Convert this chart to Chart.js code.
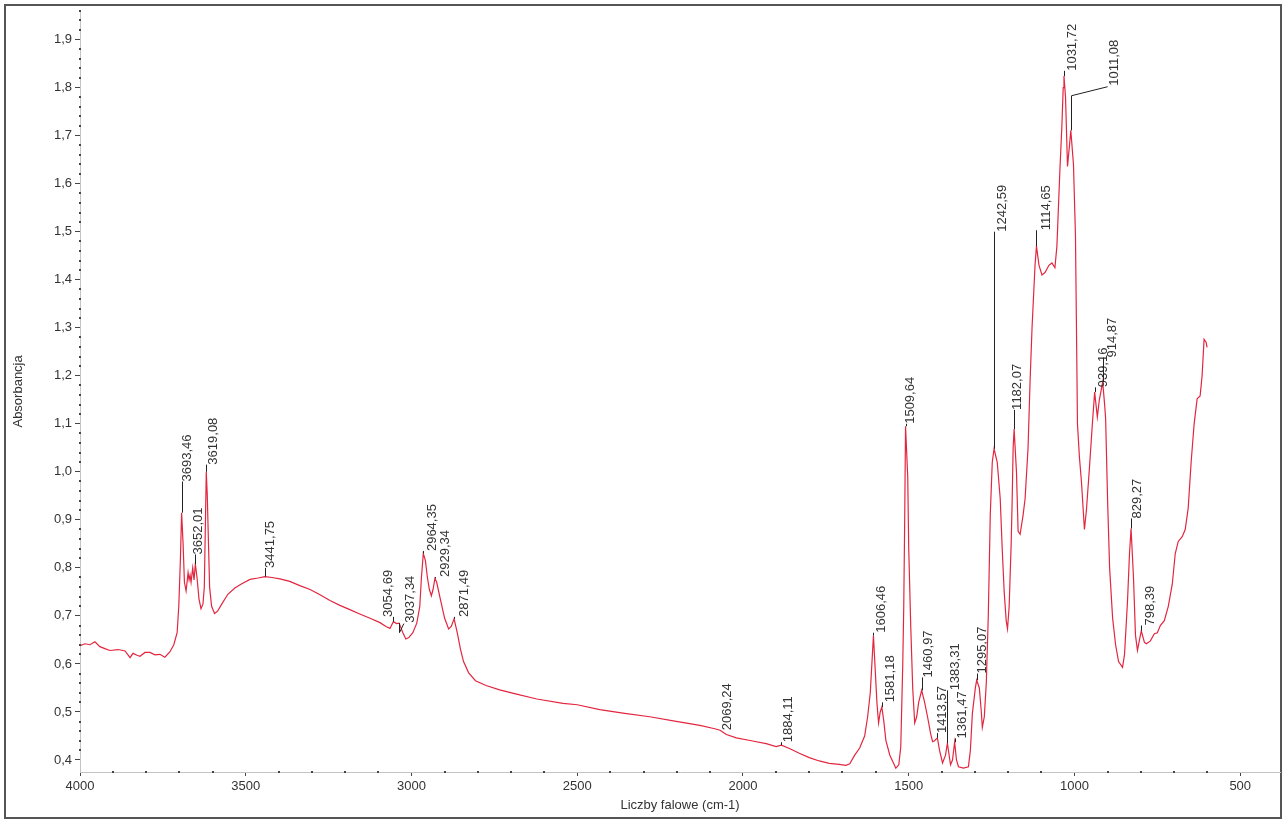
<!DOCTYPE html>
<html>
<head>
<meta charset="utf-8">
<script src="https://cdn.jsdelivr.net/npm/chart.js@4/dist/chart.umd.min.js"></script>
<style>
  html, body { margin: 0; padding: 0; background: #fff; }
  #wrap { width: 1287px; height: 820px; position: relative; }
</style>
</head>
<body>
<div id="wrap"><canvas id="ir-chart"></canvas></div>
<script>
"use strict";

// spectrum (cm-1 / absorbance)
const wavenumbers = [
  4000, 3985, 3970, 3955, 3940, 3925, 3910, 3885, 3864, 3849,
  3840, 3828, 3819, 3804, 3789, 3774, 3759, 3744, 3729, 3717,
  3707, 3702, 3697, 3693.46, 3689, 3685, 3680, 3674, 3671, 3668,
  3665, 3660, 3656, 3652.01, 3647, 3641, 3635, 3629, 3625, 3622,
  3619.08, 3616, 3612, 3609, 3603, 3594, 3585, 3572, 3554, 3533,
  3512, 3487, 3463, 3441.75, 3421, 3397, 3367, 3337, 3306, 3276,
  3246, 3216, 3186, 3156, 3125, 3095, 3077, 3065, 3054.69, 3045,
  3037.34, 3026, 3017, 3008, 2996, 2984, 2975, 2970, 2964.35, 2958,
  2952, 2946, 2940, 2935, 2929.34, 2924, 2913, 2900, 2888, 2880,
  2871.49, 2862, 2852, 2843, 2828, 2807, 2775, 2734, 2683, 2622,
  2543, 2500, 2432, 2357, 2281, 2206, 2130, 2085, 2069.24, 2050,
  2020, 1975, 1930, 1900, 1884.11, 1860, 1830, 1800, 1770, 1740,
  1710, 1690, 1678, 1663, 1648, 1633, 1624, 1616, 1606.46, 1602,
  1596, 1591, 1586, 1581.18, 1575, 1569, 1557, 1545, 1539, 1530,
  1524, 1518, 1515, 1512, 1509.64, 1503, 1500, 1494, 1488, 1482,
  1476, 1470, 1460.97, 1452, 1443, 1434, 1428, 1422, 1413.57, 1407,
  1398, 1389, 1383.31, 1374, 1368, 1361.47, 1356, 1350, 1335, 1320,
  1314, 1308, 1299, 1295.07, 1287, 1281, 1278, 1272, 1266, 1260,
  1254, 1248, 1242.59, 1233, 1224, 1218, 1212, 1206, 1202, 1197,
  1191, 1188, 1185, 1182.07, 1175, 1170, 1164, 1155, 1149, 1140,
  1134, 1128, 1119, 1114.65, 1107, 1098, 1089, 1077, 1068, 1059,
  1053, 1044, 1038, 1034, 1031.72, 1027, 1021, 1015, 1011.08, 1003,
  997, 994, 991, 985, 979, 970, 964, 955, 946, 939.16,
  931, 925, 914.87, 909, 906, 900, 894, 885, 876, 867,
  855, 849, 840, 834, 829.27, 822, 816, 810, 804, 798.39,
  789, 783, 771, 759, 750, 741, 729, 717, 705, 696,
  687, 675, 666, 657, 648, 639, 630, 621, 615, 609,
  603, 600
];

const absorbance = [
  0.638, 0.642, 0.640, 0.646, 0.636, 0.632, 0.628, 0.630, 0.627, 0.613,
  0.622, 0.618, 0.616, 0.624, 0.624, 0.619, 0.620, 0.614, 0.625, 0.640,
  0.665, 0.720, 0.820, 0.915, 0.850, 0.770, 0.752, 0.790, 0.775, 0.785,
  0.770, 0.800, 0.775, 0.808, 0.780, 0.735, 0.715, 0.725, 0.760, 0.880,
  1.000, 0.950, 0.840, 0.760, 0.720, 0.705, 0.710, 0.725, 0.745, 0.758,
  0.767, 0.776, 0.779, 0.782, 0.780, 0.777, 0.772, 0.763, 0.755, 0.744,
  0.732, 0.722, 0.713, 0.704, 0.695, 0.686, 0.678, 0.674, 0.688, 0.684,
  0.685, 0.665, 0.652, 0.655, 0.665, 0.685, 0.720, 0.780, 0.830, 0.815,
  0.780, 0.755, 0.742, 0.755, 0.778, 0.770, 0.735, 0.695, 0.673, 0.678,
  0.694, 0.665, 0.630, 0.605, 0.582, 0.565, 0.555, 0.546, 0.537, 0.527,
  0.518, 0.515, 0.505, 0.497, 0.490, 0.481, 0.472, 0.465, 0.462, 0.453,
  0.446, 0.440, 0.434, 0.428, 0.431, 0.424, 0.414, 0.405, 0.398, 0.393,
  0.391, 0.389, 0.392, 0.410, 0.425, 0.450, 0.490, 0.540, 0.659, 0.600,
  0.520, 0.477, 0.500, 0.510, 0.480, 0.441, 0.410, 0.392, 0.383, 0.390,
  0.427, 0.600, 0.720, 0.910, 1.095, 0.990, 0.840, 0.680, 0.550, 0.477,
  0.490, 0.520, 0.545, 0.520, 0.489, 0.455, 0.438, 0.440, 0.446, 0.420,
  0.394, 0.410, 0.435, 0.390, 0.400, 0.437, 0.400, 0.386, 0.383, 0.386,
  0.420, 0.497, 0.550, 0.566, 0.550, 0.500, 0.468, 0.490, 0.560, 0.700,
  0.911, 1.020, 1.048, 1.020, 0.944, 0.840, 0.750, 0.690, 0.673, 0.720,
  0.850, 0.940, 1.050, 1.089, 1.000, 0.876, 0.870, 0.910, 0.944, 1.050,
  1.187, 1.300, 1.430, 1.470, 1.430, 1.410, 1.415, 1.430, 1.435, 1.425,
  1.470, 1.628, 1.720, 1.800, 1.824, 1.780, 1.636, 1.680, 1.711, 1.640,
  1.491, 1.300, 1.100, 1.030, 0.980, 0.880, 0.920, 1.007, 1.100, 1.166,
  1.114, 1.150, 1.187, 1.140, 1.110, 0.938, 0.800, 0.696, 0.640, 0.605,
  0.593, 0.620, 0.731, 0.830, 0.882, 0.780, 0.660, 0.628, 0.650, 0.669,
  0.645, 0.642, 0.648, 0.663, 0.665, 0.680, 0.690, 0.720, 0.766, 0.830,
  0.855, 0.865, 0.880, 0.924, 1.021, 1.100, 1.152, 1.158, 1.200, 1.276,
  1.270, 1.259
];

// peak labels, where each label's text sits (cm-1) and where it starts (absorbance)
const peakLabels = [
  "3693,46", "3652,01", "3619,08", "3441,75", "3054,69", "3037,34", "2964,35",
  "2929,34", "2871,49", "2069,24", "1884,11", "1606,46", "1581,18", "1509,64",
  "1460,97", "1413,57", "1383,31", "1361,47", "1295,07", "1242,59", "1182,07",
  "1114,65", "1031,72", "1011,08", "939,16", "914,87", "829,27", "798,39"
];
const labelWns = [
  3677, 3644, 3599, 3427, 3071, 3002, 2938,
  2899, 2839, 2046, 1862, 1581, 1554, 1494,
  1440, 1398, 1358, 1337, 1277, 1217, 1171,
  1084, 1005, 879, 912, 885, 809, 770
];
const labelTops = [
  0.98, 0.828, 1.015, 0.80, 0.698, 0.686, 0.835,
  0.781, 0.698, 0.462, 0.437, 0.665, 0.52, 1.10,
  0.572, 0.456, 0.545, 0.445, 0.58, 1.50, 1.129,
  1.503, 1.835, 1.804, 1.176, 1.238, 0.903, 0.68
];

const FONT = "'Liberation Sans', Arial, sans-serif";
Chart.defaults.font.family = FONT;
Chart.defaults.font.size = 13;
Chart.defaults.color = "#333";

function absorbanceAt(wn) {
  for (let i = 0; i < wavenumbers.length - 1; i++) {
    const a = wavenumbers[i], b = wavenumbers[i + 1];
    if (wn <= a && wn >= b) {
      const t = (a - wn) / (a - b);
      return absorbance[i] + t * (absorbance[i + 1] - absorbance[i]);
    }
  }
  return absorbance[absorbance.length - 1];
}

const isMajorX = (v) => Math.abs(v % 500) < 1e-6;
const isMajorY = (v) => Math.abs(v * 10 - Math.round(v * 10)) < 1e-6;

// outer frame of the printout
const framePlugin = {
  id: "frame",
  beforeDraw(chart) {
    const ctx = chart.ctx;
    ctx.save();
    ctx.fillStyle = "#fff";
    ctx.fillRect(0, 0, chart.width, chart.height);
    ctx.strokeStyle = "#555";
    ctx.lineWidth = 2;
    ctx.strokeRect(5, 5, chart.width - 11, chart.height - 7);
    ctx.restore();
  },
  afterDraw(chart) {
    // small dots for the minor ticks
    const { ctx, scales: { x, y } } = chart;
    ctx.save();
    ctx.fillStyle = "#444";
    x.ticks.forEach((t) => {
      if (isMajorX(t.value)) return;
      const px = Math.round(x.getPixelForValue(t.value));
      ctx.fillRect(px - 1, x.top - 1, 2, 2);
    });
    y.ticks.forEach((t) => {
      if (isMajorY(t.value)) return;
      const py = Math.round(y.getPixelForValue(t.value));
      ctx.fillRect(y.right - 1, py - 1, 2, 2);
    });
    ctx.restore();
  },
};

// peak markers with rotated labels
const peakPlugin = {
  id: "peaks",
  afterDatasetsDraw(chart) {
    const { ctx, scales: { x, y } } = chart;
    ctx.save();
    ctx.strokeStyle = "#222";
    ctx.lineWidth = 1;
    ctx.fillStyle = "#333";
    ctx.font = "13px " + FONT;
    peakLabels.forEach((label, i) => {
      const wn = parseFloat(label.replace(",", "."));
      const px = Math.round(x.getPixelForValue(wn)) + 0.5;
      const py = y.getPixelForValue(absorbanceAt(wn));
      const tx = x.getPixelForValue(labelWns[i]);
      const ty = y.getPixelForValue(labelTops[i]);
      const far = Math.abs(tx - px) > 11;
      ctx.beginPath();
      ctx.moveTo(px, py);
      ctx.lineTo(px, far ? ty + 10 : ty);
      if (far) {
        const side = tx > px ? 1 : -1;
        ctx.lineTo(tx - side * 7, ty + 1);
      }
      ctx.stroke();
      ctx.save();
      ctx.translate(tx, ty);
      ctx.rotate(-Math.PI / 2);
      ctx.textAlign = "left";
      ctx.textBaseline = "middle";
      ctx.fillText(label, 0, 0);
      ctx.restore();
    });
    ctx.restore();
  },
};

const points = wavenumbers.map((wn, i) => ({ x: wn, y: absorbance[i] }));

new Chart(document.getElementById("ir-chart"), {
  type: "line",
  data: {
    datasets: [
      {
        data: points,
        borderColor: "#e3263f",
        borderWidth: 1.2,
        pointRadius: 0,
        tension: 0,
        fill: false,
      },
    ],
  },
  options: {
    responsive: true,
    maintainAspectRatio: false,
    animation: false,
    layout: { padding: { left: 5, right: 7, top: 6, bottom: 4 } },
    scales: {
      x: {
        type: "linear",
        reverse: true,
        min: 380,
        max: 4000,
        afterBuildTicks: (scale) => {
          scale.ticks = scale.ticks.filter((t) => Math.abs(t.value % 100) < 1e-6);
        },
        afterFit: (scale) => {
          scale.height = 44;
        },
        border: { display: true, color: "#c4c4c4", width: 1 },
        grid: {
          drawOnChartArea: false,
          tickLength: 4,
          tickColor: (c) => (c.tick && isMajorX(c.tick.value) ? "#444" : "rgba(0,0,0,0)"),
        },
        ticks: {
          stepSize: 100,
          autoSkip: false,
          maxRotation: 0,
          padding: 3,
          callback: (v) => (isMajorX(v) ? String(v) : ""),
        },
        title: {
          display: true,
          text: "Liczby falowe (cm-1)",
          padding: { top: 0, bottom: 3 },
        },
      },
      y: {
        min: 0.375,
        max: 1.96,
        afterBuildTicks: (scale) => {
          scale.ticks = scale.ticks.filter(
            (t) => Math.abs(t.value * 50 - Math.round(t.value * 50)) < 1e-6
          );
        },
        afterFit: (scale) => {
          scale.width = 75;
        },
        border: { display: true, color: "#c4c4c4", width: 1 },
        grid: {
          drawOnChartArea: false,
          tickLength: 5,
          tickColor: (c) => (c.tick && isMajorY(c.tick.value) ? "#444" : "rgba(0,0,0,0)"),
        },
        ticks: {
          stepSize: 0.02,
          autoSkip: false,
          padding: 3,
          callback: (v) => (isMajorY(v) ? v.toFixed(1).replace(".", ",") : ""),
        },
        title: {
          display: true,
          text: "Absorbancja",
          padding: { top: 6, bottom: 0 },
        },
      },
    },
    plugins: {
      legend: { display: false },
      tooltip: { enabled: false },
    },
  },
  plugins: [framePlugin, peakPlugin],
});
</script>
</body>
</html>
